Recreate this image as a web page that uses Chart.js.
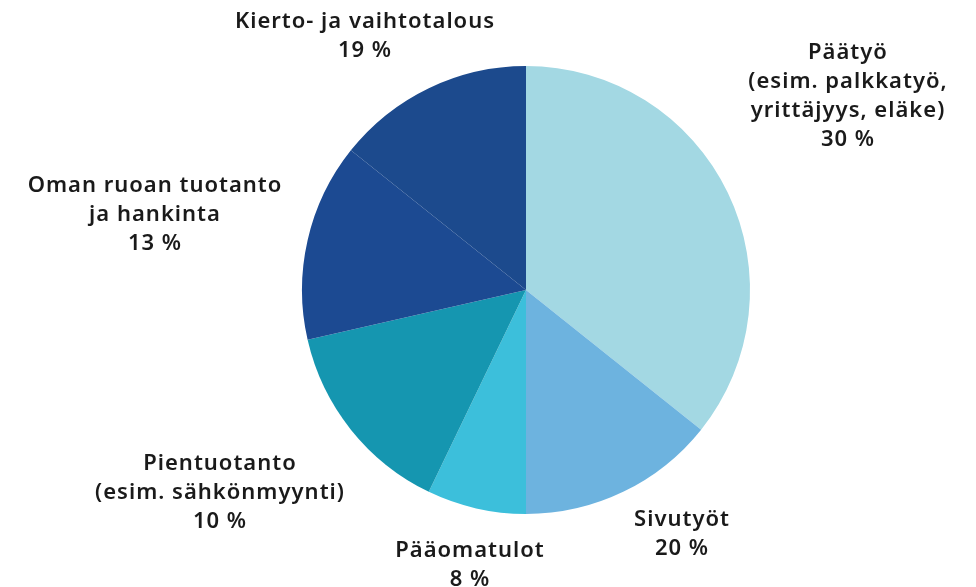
<!DOCTYPE html>
<html lang="fi">

<head>
  <meta charset="UTF-8">
  <title>Tulonlähteet</title>
  <script src="https://cdn.jsdelivr.net/npm/chart.js@4.4.0/dist/chart.umd.min.js"></script>
</head>
<style>
  html,
  body {
    margin: 0;
    padding: 0;
    background: #ffffff;
  }

  .kehys {
    width: 976px;
    height: 587px;
  }
</style>

<body>
  <div class="kehys">
    <canvas id="piirakka" width="976" height="587"></canvas>
  </div>
</body>

</html>

<script>
  // tulonlahteet myotapaivaan ylhaalta alkaen
  var nimet = [
    ["Päätyö", "(esim. palkkatyö,", "yrittäjyys, eläke)"],
    ["Sivutyöt"],
    ["Pääomatulot"],
    ["Pientuotanto", "(esim. sähkönmyynti)"],
    ["Oman ruoan tuotanto", "ja hankinta"],
    ["Kierto- ja vaihtotalous"]
  ];
  var osuudet = [30, 20, 8, 10, 13, 19];   // prosentit tekstissa
  var maarat = [5, 2, 1, 2, 2, 2];         // sektorien koko
  var varit = ["#a3d8e3", "#6db3df", "#3cbfdb", "#1596b0", "#1c4a92", "#1c4a8d"];

  // tekstien paikka suhteessa piirakan keskipisteeseen
  var tekstiPaikat = [
    [322, -194], [156, 244], [-56, 275], [-306, 203], [-371, -75], [-161, -254]
  ];

  var tekstit = {
    id: 'tekstit',
    afterDatasetsDraw(chart) {
      let ctx = chart.ctx;
      let kaari = chart.getDatasetMeta(0).data[0];
      ctx.save();
      ctx.fillStyle = "#1a1a1a";
      ctx.font = "600 22px 'Noto Sans'";
      ctx.letterSpacing = "1px";
      ctx.textAlign = "center";
      ctx.textBaseline = "middle";
      for (let i = 0; i < nimet.length; i++) {
        let rivit = nimet[i].concat([osuudet[i] + " %"]);
        let x = kaari.x + tekstiPaikat[i][0];
        let y = kaari.y + tekstiPaikat[i][1] - (rivit.length - 1) * 29 / 2;
        for (let j = 0; j < rivit.length; j++) {
          ctx.fillText(rivit[j], x, y + j * 29);
        }
      }
      ctx.restore();
    }
  };

  let piirakka = document.getElementById('piirakka')
  let kuvio = new Chart(piirakka, {
    type: 'pie',
    data: {
      labels: nimet.map(n => n.join(" ")),
      datasets: [{
        data: maarat,
        backgroundColor: varit,
        borderWidth: 0,
        hoverOffset: 0,
        offset: 0
      }]
    },
    options: {
      responsive: false,
      animation: false,
      events: [],
      layout: {
        padding: { left: 300, right: 224, top: 66, bottom: 73 }
      },
      plugins: {
        legend: { display: false },
        tooltip: { enabled: false }
      }
    },
    plugins: [tekstit]
  });
</script>
